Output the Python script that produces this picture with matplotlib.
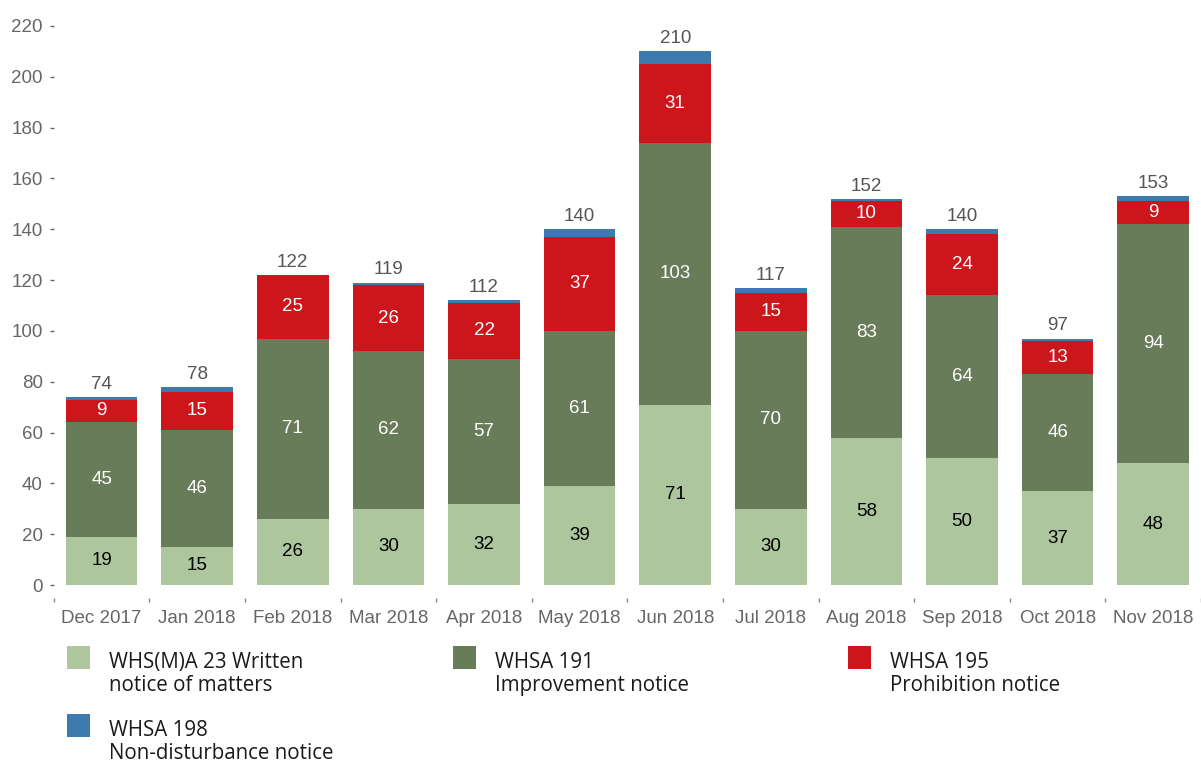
import matplotlib.pyplot as plt
import numpy as np
from matplotlib.patches import Rectangle

months = ['Dec 2017', 'Jan 2018', 'Feb 2018', 'Mar 2018', 'Apr 2018', 'May 2018',
          'Jun 2018', 'Jul 2018', 'Aug 2018', 'Sep 2018', 'Oct 2018', 'Nov 2018']
written = [19, 15, 26, 30, 32, 39, 71, 30, 58, 50, 37, 48]
improvement = [45, 46, 71, 62, 57, 61, 103, 70, 83, 64, 46, 94]
prohibition = [9, 15, 25, 26, 22, 37, 31, 15, 10, 24, 13, 9]
non_disturbance = [1, 2, 0, 1, 1, 3, 5, 2, 1, 2, 1, 2]

series_labels = ['WHS(M)A 23 Written\nnotice of matters',
                 'WHSA 191\nImprovement notice',
                 'WHSA 195\nProhibition notice',
                 'WHSA 198\nNon-disturbance notice']
colors = ['#adc69d', '#687c5a', '#cc161c', '#3d7aad']
label_colors = ['black', 'white', 'white', None]

plt.rcParams['font.family'] = ['Liberation Sans', 'DejaVu Sans']

fig = plt.figure(figsize=(12.01, 7.64), dpi=100)
ax = fig.add_axes([0.0448, 0.2173, 0.9552, 0.7827])

x = np.arange(len(months))
series = [written, improvement, prohibition, non_disturbance]
bottom = np.zeros(len(months))
for vals, col, lcol in zip(series, colors, label_colors):
    vals = np.array(vals)
    ax.bar(x, vals, width=0.75, bottom=bottom, color=col, linewidth=0)
    if lcol is not None:
        for xi, b, v in zip(x, bottom, vals):
            ax.text(xi, b + v / 2, str(v), ha='center', va='center',
                    color=lcol, fontsize=13.5)
    bottom = bottom + vals

for xi, tot in zip(x, bottom):
    ax.annotate(f'{int(tot)}', (xi, tot), xytext=(0, 3), textcoords='offset points',
                ha='center', va='bottom', color='#555555', fontsize=13.5)

ax.set_xlim(-0.5, 11.48)
ax.set_ylim(-5.1, 230.2)
ax.set_yticks(np.arange(0, 221, 20))
ax.set_xticks(x)
ax.set_xticklabels(months)
ax.set_xticks(np.arange(-0.5, 11.6, 1), minor=True)
for s in ax.spines.values():
    s.set_visible(False)
ax.tick_params(axis='y', length=3, width=1, color='#666666', pad=5,
               labelsize=13.5, labelcolor='#666666')
ax.tick_params(axis='x', which='major', length=0, pad=9,
               labelsize=13.5, labelcolor='#666666')
ax.tick_params(axis='x', which='minor', length=3, width=1, color='#888888')

# legend drawn by hand to match the layout
leg_pos = [(67, 646), (453, 646), (848, 646), (67, 714)]
for (lx, ly), col, lab in zip(leg_pos, colors, series_labels):
    fig.add_artist(Rectangle((lx / 1201, 1 - (ly + 23) / 764), 23 / 1201, 23 / 764,
                             transform=fig.transFigure, color=col, linewidth=0))
    fig.text((lx + 42) / 1201, 1 - (ly + 6) / 764, lab, ha='left', va='top',
             fontsize=14.8, color='#1a1a1a', family='Open Sans', linespacing=1.15)

fig.savefig('out.png', dpi=100)
